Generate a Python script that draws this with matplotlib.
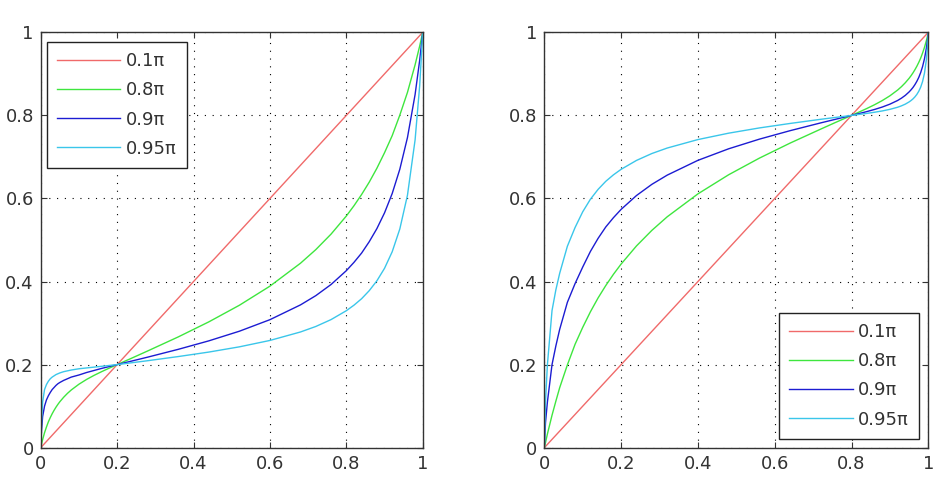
import matplotlib
matplotlib.use("Agg")
import matplotlib.pyplot as plt

# ---------------- data ----------------
labels = ["0.1\u03c0", "0.8\u03c0", "0.9\u03c0", "0.95\u03c0"]
colors = ["#f06a6a", "#3ee63e", "#1c1cd2", "#3ac6ea"]
ticks = [0, 0.2, 0.4, 0.6, 0.8, 1]
tick_labels = ["0", "0.2", "0.4", "0.6", "0.8", "1"]

# left panel (curves meet at 0.2)
left_red_x = [0, 0.2, 1.0]
left_red_y = [0, 0.2, 1.0]
left_x = [0, 0.002, 0.005, 0.01, 0.015, 0.02, 0.025, 0.03, 0.035, 0.04, 0.045,
          0.05, 0.06, 0.07, 0.08, 0.1, 0.12, 0.14, 0.16, 0.18, 0.19, 0.2,
          0.24, 0.28, 0.36, 0.44, 0.52, 0.6, 0.68, 0.72, 0.76, 0.8, 0.82,
          0.84, 0.86, 0.88, 0.9, 0.92, 0.94, 0.96, 0.98, 0.992, 1.0]
left_green = [0, 0.0082, 0.0195, 0.0361, 0.0498, 0.0622, 0.0725, 0.0818, 0.0901,
              0.0976, 0.1044, 0.1106, 0.1214, 0.1308, 0.1390, 0.1528, 0.1643,
              0.1743, 0.1833, 0.1918, 0.1959, 0.2,
              0.2163, 0.2329, 0.2667, 0.3029, 0.3429, 0.3889, 0.4441, 0.4768,
              0.5142, 0.5578, 0.5825, 0.6096, 0.6394, 0.6728, 0.7102, 0.7511,
              0.8007, 0.8554, 0.9219, 0.9670, 1.0]
left_blue = [0, 0.04, 0.075, 0.10, 0.115, 0.125, 0.133, 0.140, 0.145, 0.150,
             0.154, 0.157, 0.162, 0.166, 0.170, 0.175, 0.181, 0.186, 0.191,
             0.1955, 0.198, 0.2,
             0.2090, 0.2180, 0.2368, 0.2572, 0.2804, 0.3082, 0.3438, 0.3660,
             0.3929, 0.4262, 0.4462, 0.4686, 0.4960, 0.5275, 0.5654, 0.6118,
             0.6704, 0.7466, 0.8503, 0.9328, 1.0]
left_cyan = [0, 0.06, 0.11, 0.14, 0.152, 0.160, 0.166, 0.170, 0.173, 0.176,
             0.178, 0.180, 0.183, 0.185, 0.187, 0.190, 0.192, 0.194, 0.196,
             0.198, 0.199, 0.2,
             0.2047, 0.2094, 0.2194, 0.2302, 0.2428, 0.2582, 0.2786, 0.2918,
             0.3084, 0.3298, 0.3431, 0.3587, 0.3781, 0.4018, 0.4319, 0.4716,
             0.5266, 0.6078, 0.7411, 0.8717, 1.0]

# right panel (curves meet at 0.8)
right_red_x = [0, 0.8, 1.0]
right_red_y = [0, 0.8, 1.0]
right_x = [0, 0.003, 0.008, 0.02, 0.03, 0.04, 0.06, 0.08, 0.1, 0.12, 0.14, 0.16,
           0.18, 0.2, 0.24, 0.28, 0.32, 0.4, 0.48, 0.56, 0.64, 0.72, 0.76, 0.8,
           0.81, 0.82, 0.84, 0.86, 0.88, 0.9, 0.92, 0.93, 0.94, 0.95, 0.955,
           0.96, 0.965, 0.97, 0.975, 0.98, 0.985, 0.99, 0.995, 0.998, 1.0]
right_green = [0, 0.012, 0.033, 0.0781, 0.112, 0.1446, 0.1993, 0.2489, 0.2898,
               0.3272, 0.3606, 0.3904, 0.4175, 0.4422, 0.4858, 0.5232, 0.5559,
               0.6111, 0.6571, 0.6971, 0.7333, 0.7671, 0.7837, 0.8,
               0.8041, 0.8082, 0.8167, 0.8257, 0.8357, 0.8472, 0.8610, 0.8692,
               0.8786, 0.8894, 0.8956, 0.9024, 0.9099, 0.9182, 0.9275, 0.9378,
               0.9502, 0.9639, 0.9805, 0.9918, 1.0]
right_blue = [0, 0.06, 0.11, 0.20, 0.245, 0.285, 0.35, 0.395, 0.435, 0.4725,
              0.5040, 0.5314, 0.5538, 0.5738, 0.6071, 0.6340, 0.6562, 0.6918,
              0.7196, 0.7428, 0.7632, 0.7820, 0.7910, 0.8,
              0.8022, 0.8045, 0.8092, 0.8143, 0.8201, 0.8271, 0.8359, 0.8415,
              0.8482, 0.8566, 0.8616, 0.8672, 0.8740, 0.8819, 0.8913, 0.9030,
              0.9176, 0.9367, 0.9626, 0.9832, 1.0]
right_cyan = [0, 0.11, 0.20, 0.33, 0.38, 0.42, 0.485, 0.53, 0.568, 0.5982,
              0.6219, 0.6413, 0.6569, 0.6702, 0.6916, 0.7082, 0.7214, 0.7418,
              0.7572, 0.7698, 0.7806, 0.7906, 0.7953, 0.8,
              0.8012, 0.8024, 0.8048, 0.8076, 0.8107, 0.8146, 0.8196, 0.8230,
              0.8271, 0.8325, 0.8358, 0.8397, 0.8445, 0.8504, 0.8580, 0.8679,
              0.8816, 0.9020, 0.9353, 0.9679, 1.0]

# ---------------- drawing ----------------
plt.rcParams["font.family"] = ["DejaVu Sans"]

fig = plt.figure(figsize=(9.47, 4.78), dpi=100)
fig.patch.set_facecolor("white")
ax1 = fig.add_axes([0.043, 0.0634, 0.4034, 0.869])
ax2 = fig.add_axes([0.5748, 0.0634, 0.4055, 0.869])

panels = [
    (ax1, left_red_x, left_red_y, left_x, [left_green, left_blue, left_cyan],
     "upper left", (0.016, 0.977)),
    (ax2, right_red_x, right_red_y, right_x, [right_green, right_blue, right_cyan],
     "lower right", (0.976, 0.021)),
]

for ax, rx, ry, xs, ys, loc, anchor in panels:
    ax.plot(rx, ry, color=colors[0], lw=1.0, label=labels[0])
    for y, c, lab in zip(ys, colors[1:], labels[1:]):
        ax.plot(xs, y, color=c, lw=1.0, label=lab)
    ax.set_xlim(0, 1)
    ax.set_ylim(0, 1)
    ax.set_xticks(ticks)
    ax.set_yticks(ticks)
    ax.set_xticklabels(tick_labels)
    ax.set_yticklabels(tick_labels)
    ax.grid(True, color="black", linestyle=(0, (1, 6)), linewidth=0.8)
    ax.tick_params(direction="in", length=4, width=0.8, top=True, right=True,
                   labelsize=13, colors="#333333", pad=5)
    for sp in ax.spines.values():
        sp.set_linewidth(1.0)
        sp.set_color("#333333")
    leg = ax.legend(loc=loc, bbox_to_anchor=anchor, borderaxespad=0,
                    fancybox=False, framealpha=1, edgecolor="#222222",
                    fontsize=13, handlelength=3.5, handletextpad=0.3,
                    labelspacing=0.62, borderpad=0.57)
    leg.get_frame().set_linewidth(1.0)
    for t in leg.get_texts():
        t.set_color("#333333")

fig.savefig("out.png", dpi=100)
